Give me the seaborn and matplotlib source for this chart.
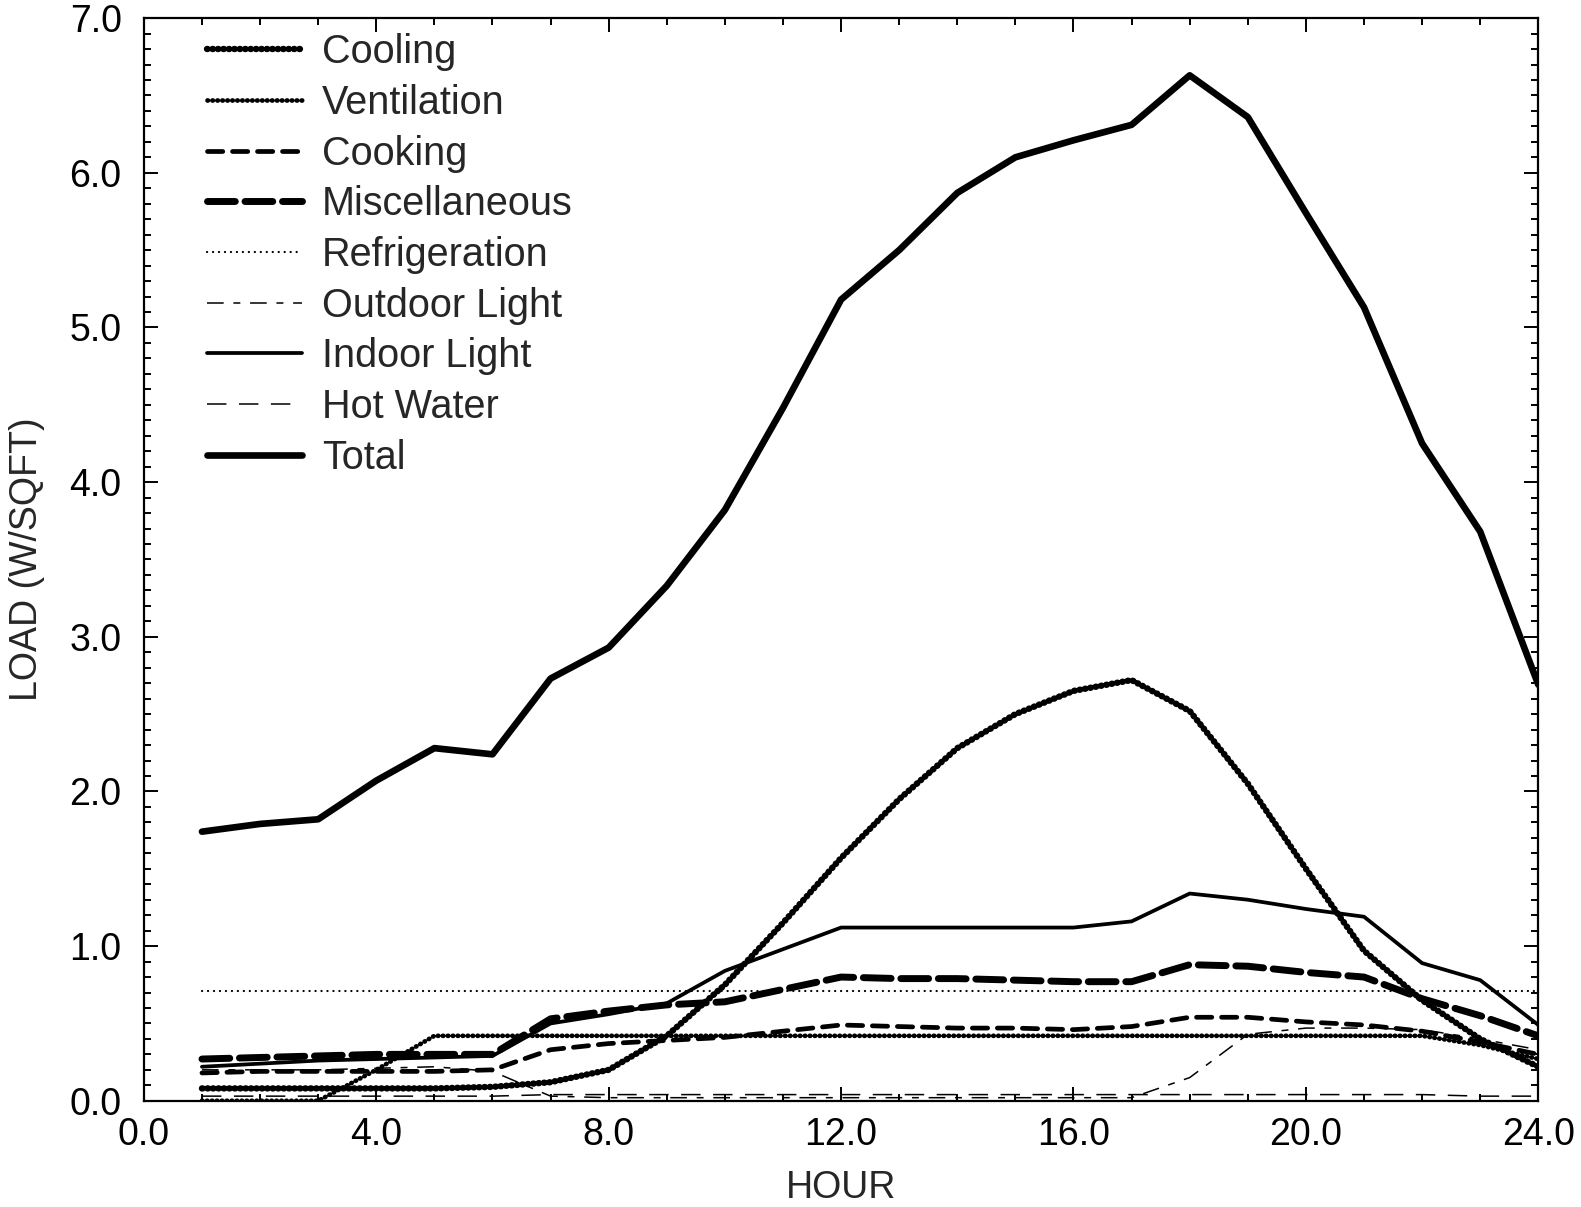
import numpy as np
import pandas as pd
import matplotlib
matplotlib.use("Agg")
import matplotlib.pyplot as plt
import seaborn as sns
from matplotlib.ticker import MultipleLocator, FormatStrFormatter

hours = list(range(1, 25))

cooling = [0.08, 0.08, 0.08, 0.08, 0.08, 0.09, 0.12, 0.20, 0.42, 0.75, 1.15, 1.57,
           1.95, 2.28, 2.50, 2.65, 2.72, 2.52, 2.05, 1.50, 0.97, 0.65, 0.40, 0.22]
ventilation = [0.00, 0.00, 0.00, 0.20, 0.42, 0.42, 0.42, 0.42, 0.42, 0.42, 0.42, 0.42,
               0.42, 0.42, 0.42, 0.42, 0.42, 0.42, 0.42, 0.42, 0.42, 0.42, 0.36, 0.27]
cooking = [0.18, 0.19, 0.19, 0.19, 0.19, 0.20, 0.33, 0.37, 0.39, 0.41, 0.45, 0.49,
           0.48, 0.47, 0.47, 0.46, 0.48, 0.54, 0.54, 0.51, 0.49, 0.45, 0.38, 0.30]
miscellaneous = [0.27, 0.28, 0.29, 0.30, 0.30, 0.30, 0.53, 0.58, 0.62, 0.64, 0.72, 0.80,
                 0.79, 0.79, 0.78, 0.77, 0.77, 0.88, 0.87, 0.83, 0.80, 0.66, 0.55, 0.42]
refrigeration = [0.71] * 24
outdoor_light = [0.20, 0.20, 0.20, 0.21, 0.22, 0.19, 0.03, 0.02, 0.02, 0.02, 0.02, 0.02,
                 0.02, 0.02, 0.02, 0.02, 0.02, 0.15, 0.43, 0.47, 0.47, 0.46, 0.40, 0.33]
indoor_light = [0.22, 0.24, 0.26, 0.27, 0.28, 0.29, 0.50, 0.56, 0.63, 0.84, 0.98, 1.12,
                1.12, 1.12, 1.12, 1.12, 1.16, 1.34, 1.30, 1.24, 1.19, 0.89, 0.78, 0.49]
hot_water = [0.03, 0.03, 0.03, 0.03, 0.03, 0.03, 0.04, 0.04, 0.04, 0.04, 0.04, 0.04,
             0.04, 0.04, 0.04, 0.04, 0.04, 0.04, 0.04, 0.04, 0.04, 0.04, 0.03, 0.03]
total = [1.74, 1.79, 1.82, 2.07, 2.28, 2.24, 2.73, 2.93, 3.33, 3.82, 4.48, 5.18,
         5.50, 5.87, 6.10, 6.21, 6.31, 6.63, 6.36, 5.74, 5.13, 4.25, 3.68, 2.69]

series_names = ["Cooling", "Ventilation", "Cooking", "Miscellaneous", "Refrigeration",
                "Outdoor Light", "Indoor Light", "Hot Water", "Total"]
series_values = [cooling, ventilation, cooking, miscellaneous, refrigeration,
                 outdoor_light, indoor_light, hot_water, total]

styles = {
    "Cooling": dict(lw=4.6, ls=(0, (0.1, 0.75)), dash_capstyle="round", scale=True),
    "Ventilation": dict(lw=3.4, ls=(0, (0.1, 0.95)), dash_capstyle="round", scale=True),
    "Cooking": dict(lw=3.4, ls=(0, (11, 7)), dash_capstyle="round", scale=False),
    "Miscellaneous": dict(lw=5.0, ls=(0, (20, 7)), dash_capstyle="round", scale=False),
    "Refrigeration": dict(lw=1.6, ls=(0, (0.1, 4.2)), dash_capstyle="round", scale=False),
    "Outdoor Light": dict(lw=1.1, ls=(0, (12, 7, 5, 7)), dash_capstyle="butt", scale=False),
    "Indoor Light": dict(lw=2.7, ls="-", dash_capstyle="butt", scale=False),
    "Hot Water": dict(lw=1.1, ls=(0, (14, 9)), dash_capstyle="butt", scale=False),
    "Total": dict(lw=4.8, ls="-", dash_capstyle="butt", scale=False),
}

sns.set_style("ticks")
plt.rcParams["font.family"] = ["Liberation Sans", "DejaVu Sans"]

fig = plt.figure(figsize=(15.81, 12.07), dpi=100)
ax = fig.add_axes([0.091, 0.088, 0.882, 0.897])

for name, vals in zip(series_names, series_values):
    st = styles[name]
    plt.rcParams["lines.scale_dashes"] = st["scale"]
    sns.lineplot(x=hours, y=vals, ax=ax, color="black", lw=st["lw"], ls=st["ls"],
                 dash_capstyle=st["dash_capstyle"], solid_capstyle="round",
                 label=name, legend=False)

ax.set_xlim(0, 24)
ax.set_ylim(0, 7)
ax.xaxis.set_major_locator(MultipleLocator(4))
ax.xaxis.set_minor_locator(MultipleLocator(1))
ax.yaxis.set_major_locator(MultipleLocator(1))
ax.yaxis.set_minor_locator(MultipleLocator(0.1))
ax.xaxis.set_major_formatter(FormatStrFormatter("%.1f"))
ax.yaxis.set_major_formatter(FormatStrFormatter("%.1f"))
ax.tick_params(which="both", direction="in", top=True, right=True, colors="black",
               width=1.4)
ax.tick_params(which="major", length=10, labelsize=27)
ax.tick_params(which="minor", length=5)
ax.tick_params(axis="x", which="major", pad=12)
ax.tick_params(axis="y", which="major", pad=16)
for sp in ax.spines.values():
    sp.set_visible(True)
    sp.set_linewidth(1.6)
    sp.set_color("black")

ax.set_xlabel("HOUR", fontsize=27, labelpad=12)
ax.set_ylabel("LOAD (W/SQFT)", fontsize=27, labelpad=18)

handles, labels = ax.get_legend_handles_labels()
leg = ax.legend(handles, labels, loc="upper left", frameon=False, fontsize=28.5,
                handlelength=2.4, handletextpad=0.52, labelspacing=0.32,
                borderaxespad=0.2, bbox_to_anchor=(0.028, 1.008))

fig.savefig("out.png", dpi=100, facecolor="white")
